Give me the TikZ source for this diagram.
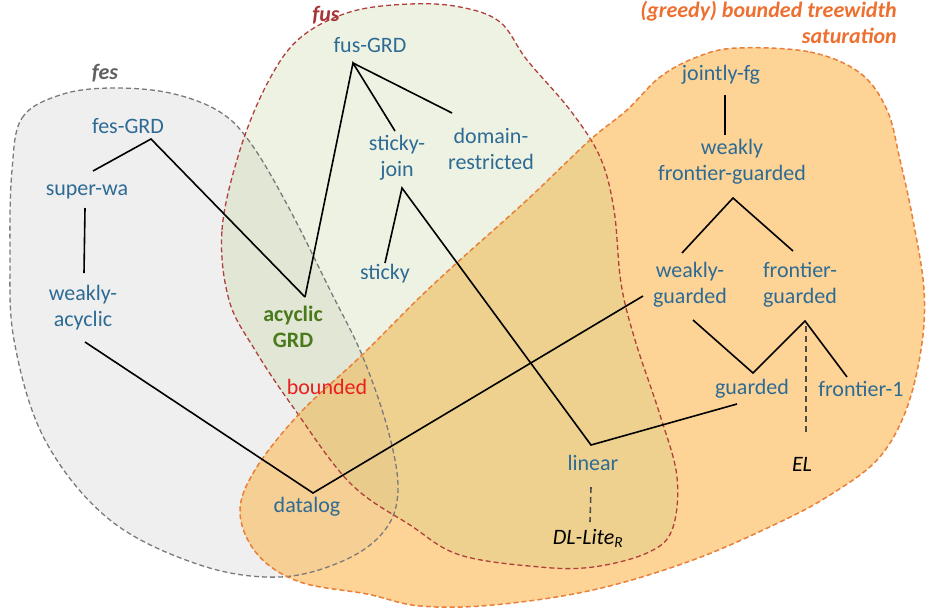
\documentclass[tikz,border=0pt]{standalone}
\usepackage{fontspec}
\setmainfont{Carlito}
\definecolor{txtblue}{HTML}{2E6B94}
\definecolor{fesfill}{HTML}{EFEFF0}
\definecolor{fusfill}{HTML}{EEF2E3}
\definecolor{fesfus}{HTML}{E1E6D5}
\definecolor{orfill}{HTML}{FDD396}
\definecolor{orfus}{HTML}{EED18E}
\definecolor{orfes}{HTML}{F5CF93}
\definecolor{orall}{HTML}{E9CB8B}
\definecolor{fesline}{HTML}{7A7A7A}
\definecolor{fusline}{HTML}{B0403C}
\definecolor{orline}{HTML}{E8803A}
\definecolor{acycgreen}{HTML}{4B7A1C}
\definecolor{boundred}{HTML}{E8201E}
\definecolor{orlabel}{HTML}{EE7030}
\definecolor{feslabel}{HTML}{606060}
\definecolor{fuslabel}{HTML}{A83438}
\begin{document}
\begin{tikzpicture}[x=1pt,y=-1pt,
  cls/.style={text=txtblue,font=\fontsize{22}{26}\selectfont,align=center,inner sep=0pt},
  dl/.style={text=black,font=\fontsize{22}{26}\selectfont\itshape,inner sep=0pt},
  setlabel/.style={font=\fontsize{22}{26}\selectfont\bfseries\itshape,inner sep=0pt},
  edge/.style={line width=1.6pt,black},
  dedge/.style={line width=1.6pt,black!70,dash pattern=on 6pt off 4pt},
  blob/.style={line width=1.3pt,dash pattern=on 5pt off 3pt}]
\useasboundingbox (0,0) rectangle (927,611);
\def\fespath{plot[smooth cycle,tension=0.6] coordinates{(12,170) (22,118) (60,95) (110,88) (170,93) (220,112) (252,145) (290,210) (330,290) (362,355) (388,430) (398,490) (385,530) (345,560) (280,577) (200,565) (110,520) (45,440) (14,340) (10,250)}}
\def\fuspath{plot[smooth cycle,tension=0.6] coordinates{(229,300) (222,230) (240,150) (268,82) (300,38) (350,12) (410,4) (460,7) (500,22) (527,60) (570,110) (600,157) (614,210) (621,283) (635,340) (660,415) (677,477) (672,530) (647,553) (593,567) (540,567) (460,555) (410,525) (350,483) (293,407) (255,350)}}
\def\orpath{plot[smooth cycle,tension=0.6] coordinates{(737,48) (810,52) (860,73) (887,110) (900,160) (913,220) (924,290) (921,350) (905,413) (877,460) (830,495) (780,522) (693,560) (593,590) (493,605) (420,606) (367,594) (300,582) (258,555) (240,513) (255,470) (300,413) (360,357) (417,300) (460,260) (527,200) (590,140) (627,110) (660,77) (697,57)}}
% fills
\fill[fesfill] \fespath;
\fill[fusfill] \fuspath;
\begin{scope}\clip \fespath; \fill[fesfus] \fuspath; \end{scope}
\fill[orfill] \orpath;
\begin{scope}\clip \orpath; \fill[orfus] \fuspath; \end{scope}
\begin{scope}\clip \orpath; \fill[orfes] \fespath; \end{scope}
\begin{scope}\clip \orpath; \clip \fespath; \fill[orall] \fuspath; \end{scope}
% outlines
\draw[blob,fesline] \fespath;
\draw[blob,fusline] \fuspath;
\draw[blob,orline,line width=1.5pt] \orpath;
% set labels
\node[setlabel,text=feslabel] (feslab) at (105,73) {fes};
\node[setlabel,text=fuslabel] (fuslab) at (326,15) {fus};
\node[setlabel,text=orlabel,align=right,anchor=north east] (orlab) at (897,1) {(greedy) bounded treewidth\\saturation};
% class nodes
\node[cls] (fusgrd) at (370,45) {fus-GRD};
\node[cls] (fesgrd) at (128,126) {fes-GRD};
\node[cls] (superwa) at (87,192) {super-wa};
\node[cls] (wacyc) at (83,308) {weakly-\\acyclic};
\node[cls,text=acycgreen,font=\fontsize{22}{26}\selectfont\bfseries] (acyc) at (293,327) {acyclic\\GRD};
\node[cls] (sjoin) at (397,158) {sticky-\\join};
\node[cls] (domr) at (491,149) {domain-\\restricted};
\node[cls] (sticky) at (385,274) {sticky};
\node[cls,text=boundred] (bounded) at (327,387) {bounded};
\node[cls] (jfg) at (721,75) {jointly-fg};
\node[cls] (wfg) at (732,162) {weakly\\frontier-guarded};
\node[cls] (wg) at (690,285) {weakly-\\guarded};
\node[cls] (fg) at (800,285) {frontier-\\guarded};
\node[cls] (guarded) at (752,389) {guarded};
\node[cls] (f1) at (861,389) {frontier-1};
\node[dl] (el) at (802,464) {EL};
\node[cls] (linear) at (593,463) {linear};
\node[dl] (dllite) at (588,538) {DL-Lite\textsubscript{R}};
\node[cls] (datalog) at (307,507) {datalog};
% connector ports
\coordinate (fesgrdP) at (151,139);
\coordinate (superwaT) at (93,171);
\coordinate (superwaB) at (85,208);
\coordinate (wacycT) at (84,273);
\coordinate (wacycB) at (85,342);
\coordinate (datalogT) at (313,493);
\coordinate (acycT) at (305,297);
\coordinate (fusgrdP) at (353,63);
\coordinate (sjoinT) at (395,131);
\coordinate (domrT) at (452,113);
\coordinate (sjoinB) at (402,188);
\coordinate (stickyT) at (385,263);
\coordinate (linearT) at (591,445);
\coordinate (guardedL) at (737,404);
\coordinate (wgL) at (643,296);
\coordinate (jfgB) at (725,95);
\coordinate (wfgT) at (725,135);
\coordinate (wfgB) at (733,198);
\coordinate (wgT) at (682,253);
\coordinate (fgT) at (793,251);
\coordinate (wgB) at (693,320);
\coordinate (guardedT) at (753,373);
\coordinate (fgB) at (805,321);
\coordinate (f1T) at (847,377);
\coordinate (fgD) at (806,326);
\coordinate (elT) at (806,435);
\coordinate (linearB) at (591,487);
\coordinate (dlT) at (590,522);
% connectors
\draw[edge] (superwaT) -- (fesgrdP) -- (acycT);
\draw[edge] (acycT) -- (fusgrdP) -- (sjoinT);
\draw[edge] (fusgrdP) -- (domrT);
\draw[edge] (superwaB) -- (wacycT);
\draw[edge] (stickyT) -- (sjoinB) -- (linearT) -- (guardedL);
\draw[edge] (wacycB) -- (datalogT) -- (wgL);
\draw[edge] (jfgB) -- (wfgT);
\draw[edge] (wgT) -- (wfgB) -- (fgT);
\draw[edge] (wgB) -- (guardedT) -- (fgB) -- (f1T);
\draw[dedge] (fgD) -- (elT);
\draw[dedge] (linearB) -- (dlT);
\end{tikzpicture}
\end{document}
